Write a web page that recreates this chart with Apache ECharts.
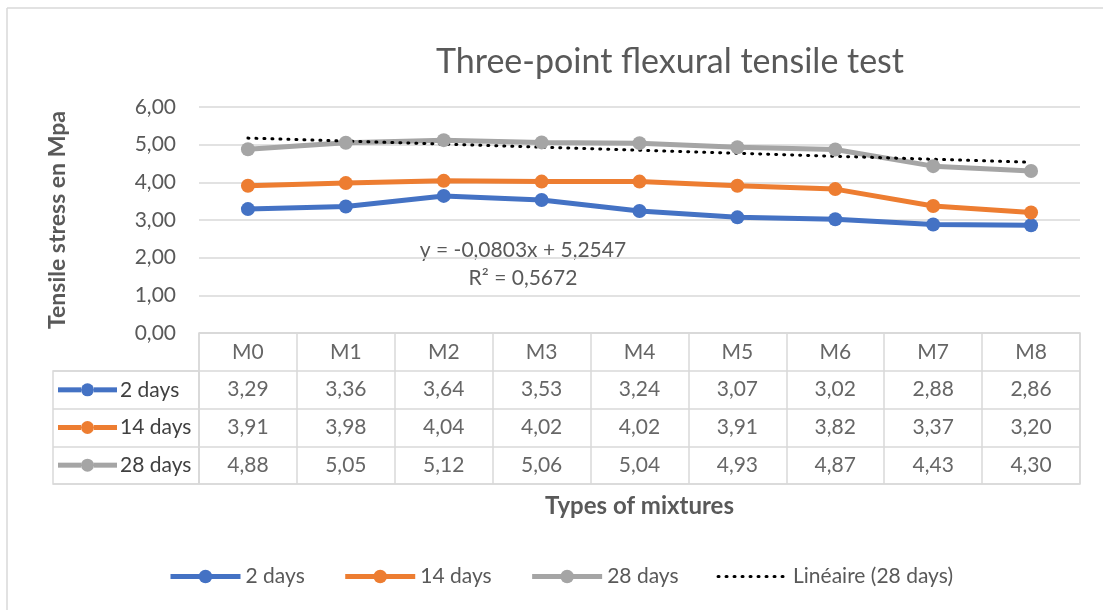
<!DOCTYPE html>
<html>
<head>
<meta charset="utf-8">
<script src="https://cdn.jsdelivr.net/npm/echarts@6/dist/echarts.min.js"></script>
<style>
  html, body { margin: 0; padding: 0; background: #fff; }
  #chart { width: 1103px; height: 610px; }
</style>
</head>
<body>
<div id="chart"></div>
<script>
  // data
  const categories = ['M0', 'M1', 'M2', 'M3', 'M4', 'M5', 'M6', 'M7', 'M8'];
  const seriesNames = ['2 days', '14 days', '28 days'];
  const days2 = [3.29, 3.36, 3.64, 3.53, 3.24, 3.07, 3.02, 2.88, 2.86];
  const days14 = [3.91, 3.98, 4.04, 4.02, 4.02, 3.91, 3.82, 3.37, 3.20];
  const days28 = [4.88, 5.05, 5.12, 5.06, 5.04, 4.93, 4.87, 4.43, 4.30];
  // Excel linear trend shown on the chart (28 days)
  const trendName = 'Linéaire (28 days)';
  const trendSlope = -0.0803;
  const trendIntercept = 5.2547;
  const trendR2 = 0.5672;

  const colors = ['#4472C4', '#ED7D31', '#A5A5A5'];
  const font = 'Lato, "Open Sans", sans-serif';
  const gridColor = '#d9d9d9';
  const textColor = '#595959';
  const dotted = [1, 7];

  const fmt = v => v.toFixed(2).replace('.', ',');
  const fmt4 = v => v.toFixed(4).replace('.', ',');

  const allSeries = [days2, days14, days28];

  // cells of the data table: [col, row, text]
  const tableCells = [];
  categories.forEach((c, i) => tableCells.push([i, 0, c]));
  allSeries.forEach((arr, r) => arr.forEach((v, i) => tableCells.push([i, r + 1, fmt(v)])));

  // trend line end points (x = 1 .. 9 in Excel)
  const trendData = [
    [0, trendIntercept + trendSlope * 1],
    [categories.length - 1, trendIntercept + trendSlope * categories.length]
  ];

  const rich = { t: { fontSize: 21, color: '#404040', fontFamily: font, padding: [0, 0, 0, 3] } };
  colors.forEach((c, i) => {
    rich['l' + i] = { width: 23, height: 5, backgroundColor: c };
    rich['c' + i] = { width: 13, height: 13, borderRadius: 6.5, backgroundColor: c };
  });

  const legendData = seriesNames.map((n, i) => ({
    name: n, lineStyle: { width: 5, color: colors[i] }
  }));
  legendData.push({
    name: trendName,
    itemStyle: { color: 'transparent', borderWidth: 0 },
    lineStyle: { width: 3, color: '#000', type: dotted, cap: 'round' }
  });

  const chart = echarts.init(document.getElementById('chart'));
  chart.setOption({
    animation: false,
    textStyle: { fontFamily: font },
    title: {
      text: 'Three-point flexural tensile test',
      left: 665, top: 40, textAlign: 'center',
      textStyle: { fontSize: 34, fontWeight: 'normal', color: textColor, fontFamily: font }
    },
    legend: {
      left: 163, top: 561,
      itemWidth: 70, itemHeight: 17, itemGap: 38,
      textStyle: { fontSize: 21, color: textColor, fontFamily: font },
      data: legendData
    },
    grid: [
      { left: 199, top: 107, width: 881, height: 226 },
      { left: 199, top: 333, width: 881, height: 151, show: true, borderColor: gridColor, borderWidth: 1.5 },
      { left: 53, top: 371, width: 146, height: 113, show: true, borderColor: gridColor, borderWidth: 1.5 }
    ],
    xAxis: [
      { type: 'category', gridIndex: 0, data: categories, boundaryGap: true,
        axisLine: { show: false }, axisTick: { show: false }, axisLabel: { show: false } },
      { type: 'category', gridIndex: 1, data: categories, boundaryGap: true,
        axisLine: { show: false }, axisTick: { show: false }, axisLabel: { show: false },
        splitLine: { show: true, interval: 0, lineStyle: { color: gridColor, width: 1.5 } },
        name: 'Types of mixtures', nameLocation: 'middle', nameGap: 10,
        nameTextStyle: { fontSize: 24, fontWeight: 'bold', color: textColor, fontFamily: font } },
      { type: 'value', gridIndex: 2, show: false }
    ],
    yAxis: [
      { type: 'value', gridIndex: 0, min: 0, max: 6, interval: 1,
        axisLine: { show: false }, axisTick: { show: false },
        axisLabel: { formatter: v => fmt(v), fontSize: 21, color: textColor, margin: 23, fontFamily: font },
        splitLine: { lineStyle: { color: gridColor, width: 1.5 } },
        name: 'Tensile stress en Mpa', nameLocation: 'middle', nameGap: 130,
        nameTextStyle: { fontSize: 23, fontWeight: 'bold', color: textColor, fontFamily: font } },
      { type: 'category', gridIndex: 1, inverse: true, data: [''].concat(seriesNames),
        axisLine: { show: false }, axisTick: { show: false }, axisLabel: { show: false },
        splitLine: { show: true, interval: 0, lineStyle: { color: gridColor, width: 1.5 } } },
      { type: 'category', gridIndex: 2, inverse: true, data: seriesNames,
        axisLine: { show: false }, axisTick: { show: false },
        splitLine: { show: true, interval: 0, lineStyle: { color: gridColor, width: 1.5 } },
        axisLabel: { inside: true, margin: 5, interval: 0,
          formatter: (v, i) => '{l' + i + '|}{c' + i + '|}{l' + i + '|}{t|' + v + '}', rich: rich } }
    ],
    series: [
      ...allSeries.map((arr, i) => ({
        name: seriesNames[i], type: 'line', xAxisIndex: 0, yAxisIndex: 0,
        data: arr, color: colors[i],
        symbol: 'circle', symbolSize: 14,
        lineStyle: { width: 5, color: colors[i] },
        itemStyle: { color: colors[i] }
      })),
      {
        name: trendName, type: 'line', xAxisIndex: 0, yAxisIndex: 0,
        data: trendData, symbol: 'none', color: '#000',
        lineStyle: { color: '#000', width: 3, type: dotted, cap: 'round' }
      },
      {
        type: 'scatter', xAxisIndex: 1, yAxisIndex: 1, data: tableCells,
        symbolSize: 1, itemStyle: { color: 'transparent' }, silent: true,
        label: { show: true, position: 'inside', formatter: p => p.data[2],
          fontSize: 21, color: '#404040', fontFamily: font }
      }
    ],
    graphic: [
      { type: 'line', shape: { x1: 7, y1: 8, x2: 1103, y2: 8 }, style: { stroke: gridColor, lineWidth: 1.5 } },
      { type: 'line', shape: { x1: 7, y1: 8, x2: 7, y2: 610 }, style: { stroke: gridColor, lineWidth: 1.5 } },
      { type: 'text', x: 523, y: 236, style: {
          text: 'y = ' + fmt4(trendSlope) + 'x + ' + fmt4(trendIntercept) + '\nR² = ' + fmt4(trendR2),
          textAlign: 'center', lineHeight: 28, fill: textColor, font: '21px ' + font } }
    ]
  });
</script>
</body>
</html>
